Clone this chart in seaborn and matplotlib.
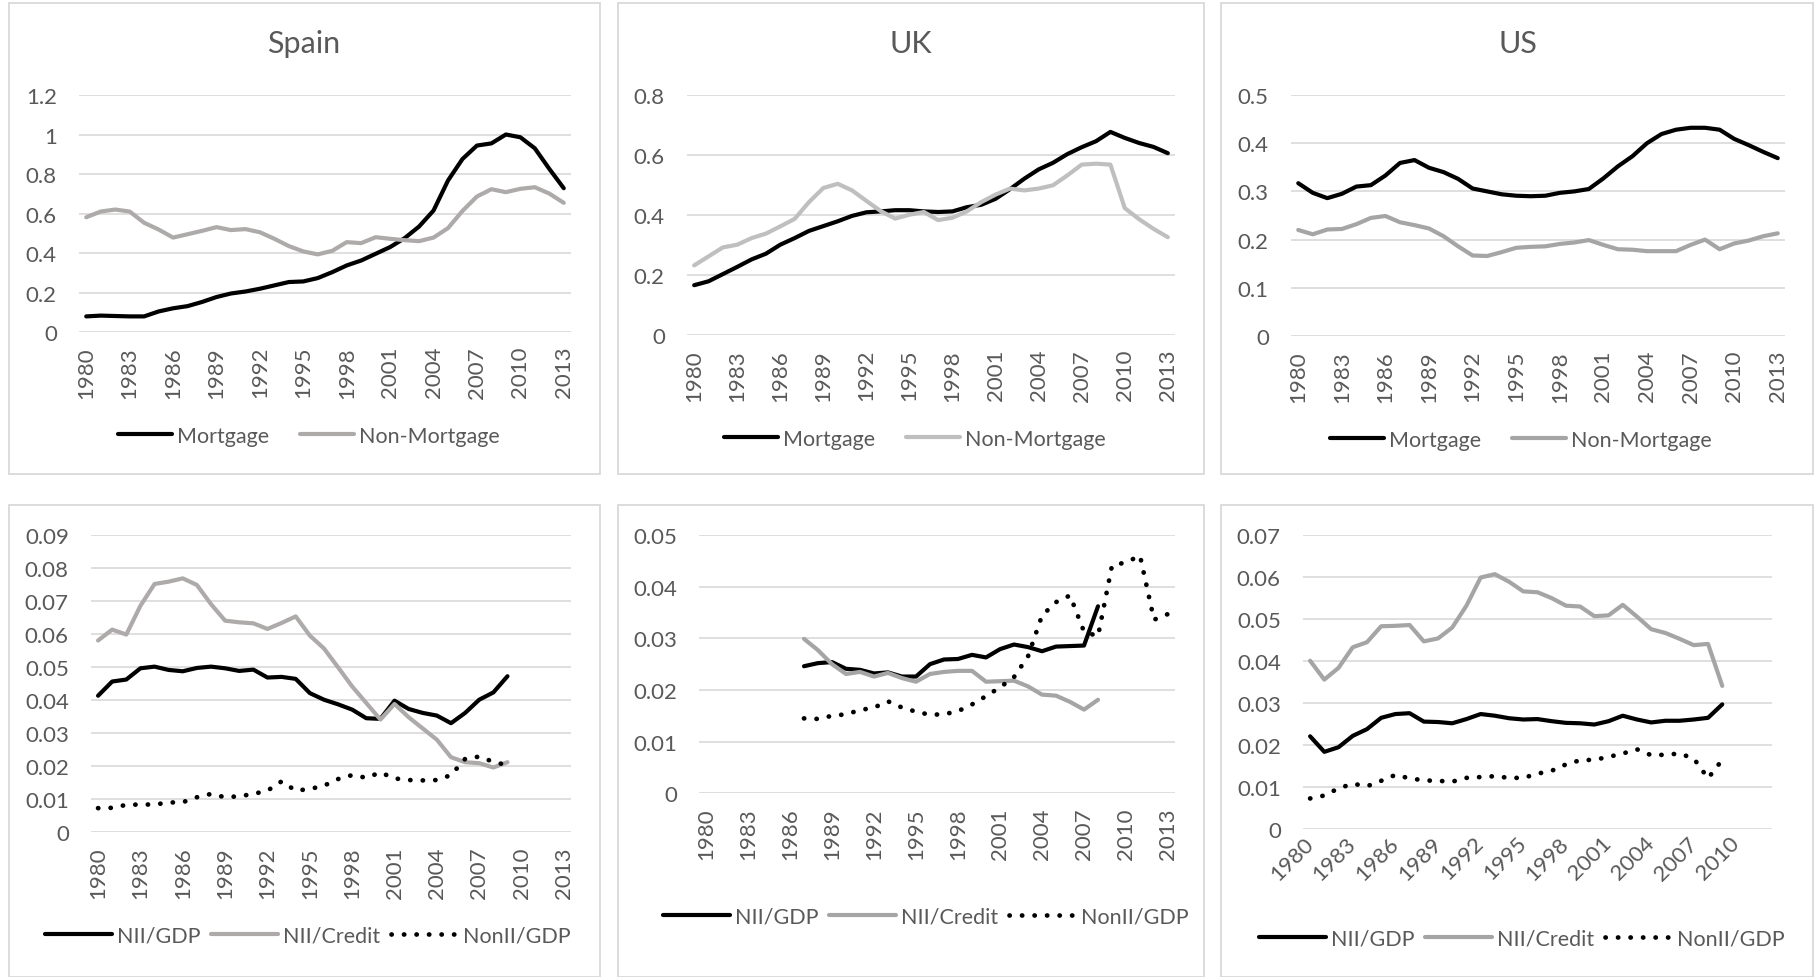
import matplotlib
matplotlib.use("Agg")
import matplotlib.pyplot as plt
from matplotlib.patches import Rectangle
import seaborn as sns
import pandas as pd

plt.rcParams['font.family'] = ['Lato', 'DejaVu Sans']

# ---------------- data ----------------
years = list(range(1980, 2014))
xtick_years = [1980, 1983, 1986, 1989, 1992, 1995, 1998, 2001, 2004, 2007, 2010, 2013]
xtick_years_us_bottom = [1980, 1983, 1986, 1989, 1992, 1995, 1998, 2001, 2004, 2007, 2010]

spain_mortgage = [0.079, 0.083, 0.081, 0.079, 0.079, 0.104, 0.120, 0.131, 0.152, 0.177,
                  0.195, 0.205, 0.219, 0.236, 0.253, 0.256, 0.273, 0.303, 0.337, 0.362,
                  0.396, 0.430, 0.475, 0.534, 0.615, 0.767, 0.876, 0.944, 0.955, 1.000,
                  0.986, 0.930, 0.826, 0.728]
spain_nonmortgage = [0.581, 0.610, 0.620, 0.610, 0.553, 0.519, 0.478, 0.495, 0.512, 0.531,
                     0.516, 0.521, 0.505, 0.472, 0.435, 0.408, 0.393, 0.411, 0.455, 0.450,
                     0.480, 0.472, 0.465, 0.460, 0.478, 0.526, 0.613, 0.686, 0.723, 0.708,
                     0.725, 0.733, 0.701, 0.654]

uk_mortgage = [0.166, 0.179, 0.203, 0.227, 0.252, 0.271, 0.301, 0.323, 0.347, 0.363,
               0.379, 0.397, 0.409, 0.412, 0.416, 0.416, 0.412, 0.410, 0.412, 0.426,
               0.434, 0.454, 0.486, 0.521, 0.552, 0.574, 0.603, 0.626, 0.646, 0.677,
               0.657, 0.640, 0.627, 0.606]
uk_nonmortgage = [0.232, 0.262, 0.292, 0.301, 0.323, 0.338, 0.362, 0.387, 0.443, 0.490,
                  0.504, 0.482, 0.447, 0.413, 0.388, 0.401, 0.410, 0.383, 0.391, 0.412,
                  0.443, 0.468, 0.488, 0.482, 0.488, 0.499, 0.532, 0.568, 0.571, 0.568,
                  0.423, 0.386, 0.354, 0.326]

us_mortgage = [0.317, 0.297, 0.286, 0.295, 0.310, 0.313, 0.333, 0.359, 0.365, 0.349,
               0.340, 0.326, 0.306, 0.300, 0.294, 0.291, 0.290, 0.291, 0.297, 0.300,
               0.305, 0.327, 0.352, 0.373, 0.400, 0.419, 0.428, 0.432, 0.432, 0.428,
               0.409, 0.396, 0.382, 0.369]
us_nonmortgage = [0.220, 0.211, 0.221, 0.222, 0.232, 0.245, 0.249, 0.236, 0.230, 0.223,
                  0.207, 0.186, 0.167, 0.166, 0.174, 0.183, 0.185, 0.186, 0.191, 0.194,
                  0.199, 0.189, 0.180, 0.179, 0.176, 0.176, 0.176, 0.189, 0.200, 0.180,
                  0.192, 0.198, 0.207, 0.213]

# bottom row
spain_b_years = list(range(1980, 2010))
spain_nii_gdp = [0.0413, 0.0456, 0.0462, 0.0496, 0.0501, 0.0491, 0.0487, 0.0497, 0.0501, 0.0496,
                 0.0488, 0.0492, 0.0468, 0.0470, 0.0464, 0.0421, 0.0401, 0.0387, 0.0371, 0.0345,
                 0.0343, 0.0398, 0.0373, 0.0361, 0.0353, 0.0330, 0.0361, 0.0401, 0.0423, 0.0472]
spain_nii_credit = [0.0580, 0.0613, 0.0598, 0.0685, 0.0751, 0.0758, 0.0768, 0.0748, 0.0690, 0.0640,
                    0.0635, 0.0632, 0.0615, 0.0633, 0.0653, 0.0595, 0.0556, 0.0499, 0.0441, 0.0391,
                    0.0341, 0.0388, 0.0348, 0.0314, 0.0280, 0.0227, 0.0212, 0.0209, 0.0196, 0.0212]
spain_nonii_gdp = [0.0073, 0.0074, 0.0083, 0.0084, 0.0084, 0.0090, 0.0091, 0.0106, 0.0116, 0.0106,
                   0.0109, 0.0116, 0.0126, 0.0154, 0.0126, 0.0131, 0.0141, 0.0161, 0.0173, 0.0165,
                   0.0181, 0.0163, 0.0158, 0.0157, 0.0158, 0.0173, 0.0222, 0.0229, 0.0213, 0.0203]

uk_b_years = list(range(1987, 2009))
uk_nii_gdp = [0.0246, 0.0252, 0.0254, 0.0241, 0.0239, 0.0232, 0.0234, 0.0226, 0.0226, 0.0250,
              0.0259, 0.0260, 0.0268, 0.0263, 0.0279, 0.0288, 0.0283, 0.0275, 0.0284, 0.0285,
              0.0286, 0.0362]
uk_nii_credit = [0.0299, 0.0277, 0.0250, 0.0231, 0.0235, 0.0226, 0.0233, 0.0223, 0.0216, 0.0231,
                 0.0235, 0.0237, 0.0237, 0.0216, 0.0217, 0.0218, 0.0207, 0.0191, 0.0189, 0.0177,
                 0.0162, 0.0181]
uk_nonii_years = list(range(1987, 2014))
uk_nonii_gdp = [0.0145, 0.0144, 0.0150, 0.0153, 0.0161, 0.0166, 0.0178, 0.0166, 0.0158, 0.0152,
                0.0153, 0.0159, 0.0172, 0.0188, 0.0205, 0.0225, 0.0265, 0.0344, 0.0370, 0.0383,
                0.0313, 0.0304, 0.0441, 0.0447, 0.0460, 0.0336, 0.0347]

us_b_years = list(range(1980, 2010))
us_nii_gdp = [0.0220, 0.0183, 0.0194, 0.0221, 0.0237, 0.0264, 0.0273, 0.0275, 0.0255, 0.0254,
              0.0251, 0.0261, 0.0273, 0.0269, 0.0263, 0.0260, 0.0261, 0.0256, 0.0252, 0.0251,
              0.0248, 0.0256, 0.0269, 0.0260, 0.0253, 0.0257, 0.0257, 0.0260, 0.0264, 0.0296]
us_nii_credit = [0.0400, 0.0355, 0.0383, 0.0432, 0.0444, 0.0482, 0.0483, 0.0485, 0.0446, 0.0453,
                 0.0479, 0.0531, 0.0598, 0.0606, 0.0588, 0.0565, 0.0563, 0.0549, 0.0531, 0.0529,
                 0.0506, 0.0508, 0.0533, 0.0505, 0.0475, 0.0466, 0.0452, 0.0437, 0.0440, 0.0340]
us_nonii_gdp = [0.0072, 0.0079, 0.0096, 0.0107, 0.0101, 0.0114, 0.0128, 0.0120, 0.0115, 0.0114,
                0.0112, 0.0121, 0.0123, 0.0125, 0.0121, 0.0121, 0.0131, 0.0138, 0.0153, 0.0163,
                0.0164, 0.0171, 0.0179, 0.0189, 0.0175, 0.0176, 0.0179, 0.0167, 0.0120, 0.0164]

titles = ["Spain", "UK", "US"]
top_labels = ["Mortgage", "Non-Mortgage"]
bottom_labels = ["NII/GDP", "NII/Credit", "NonII/GDP"]
yticks_spain_top = [0, 0.2, 0.4, 0.6, 0.8, 1.0, 1.2]
yticks_uk_top = [0, 0.2, 0.4, 0.6, 0.8]
yticks_us_top = [0, 0.1, 0.2, 0.3, 0.4, 0.5]
yticks_spain_bottom = [0, 0.01, 0.02, 0.03, 0.04, 0.05, 0.06, 0.07, 0.08, 0.09]
yticks_uk_bottom = [0, 0.01, 0.02, 0.03, 0.04, 0.05]
yticks_us_bottom = [0, 0.01, 0.02, 0.03, 0.04, 0.05, 0.06, 0.07]

# ---------------- style ----------------
W, H = 1820, 978
TXT = "#595959"
GRID = "#D9D9D9"
LW = 3.0
DOT = (0, (0.05, 2.6))

fig = plt.figure(figsize=(W / 100, H / 100), dpi=100)
fig.patch.set_facecolor("white")


def px_axes(x0, x1, y0, y1):
    return fig.add_axes([x0 / W, 1 - y1 / H, (x1 - x0) / W, (y1 - y0) / H])


def panel(x0, x1, y0, y1):
    fig.patches.append(Rectangle((x0 / W, 1 - y1 / H), (x1 - x0) / W, (y1 - y0) / H,
                                 transform=fig.transFigure, fill=False,
                                 edgecolor=GRID, linewidth=1.3, zorder=0))


def fmt(v):
    return f"{v:.2f}".rstrip("0").rstrip(".")


def style_axes(ax, yticks, xticks, xlim, rot=90):
    ax.set_xlim(*xlim)
    ax.set_ylim(yticks[0], yticks[-1])
    ax.set_yticks(yticks)
    ax.set_yticklabels([fmt(v) for v in yticks])
    ax.set_xticks(xticks)
    ax.set_xticklabels([str(y) for y in xticks])
    for s in ax.spines.values():
        s.set_visible(False)
    ax.grid(axis="y", color=GRID, linewidth=1.2)
    ax.grid(axis="x", visible=False)
    ax.set_axisbelow(True)
    ax.tick_params(axis="both", length=0, labelsize=16, labelcolor=TXT)
    ax.tick_params(axis="y", pad=16)
    if rot == 90:
        ax.tick_params(axis="x", pad=10)
        for t in ax.get_xticklabels():
            t.set_rotation(90)
            t.set_ha("center")
            t.set_va("top")
    else:
        ax.tick_params(axis="x", pad=8)
        for t in ax.get_xticklabels():
            t.set_rotation(45)
            t.set_ha("right")
            t.set_va("center")
            t.set_rotation_mode("anchor")
    ax.set_xlabel("")
    ax.set_ylabel("")
    ax.set_facecolor("none")


def add_legend(ax, cx, cy, ncol, hl, colsp):
    h, l = ax.get_legend_handles_labels()
    ax.legend(h, l, loc="center", bbox_to_anchor=(cx / W, 1 - cy / H),
              bbox_transform=fig.transFigure, ncol=ncol, frameon=False,
              fontsize=15.5, labelcolor=TXT, handlelength=hl, handletextpad=0.25,
              columnspacing=colsp, borderpad=0, borderaxespad=0)


# panel borders
cols = [(9, 600), (617.5, 1204), (1221, 1813)]
for x0, x1 in cols:
    panel(x0, x1, 3.5, 475)
    panel(x0, x1, 506, 977.5)

# titles
for t, cx in zip(titles, [304, 911, 1518]):
    fig.text(cx / W, 1 - 44 / H, t, ha="center", va="center", fontsize=22, color=TXT)

line_kw = dict(linewidth=LW, solid_capstyle="round", solid_joinstyle="round")
dot_kw = dict(linewidth=LW + 0.4, linestyle=DOT, dash_capstyle="round")

# ---- top row ----
top = [
    ((79, 571, 96, 333), spain_mortgage, spain_nonmortgage, "#AEAAAA", yticks_spain_top, 309, 437),
    ((687, 1175, 96, 336), uk_mortgage, uk_nonmortgage, "#BFBFBF", yticks_uk_top, 915, 440),
    ((1291, 1785, 96, 337), us_mortgage, us_nonmortgage, "#A5A5A5", yticks_us_top, 1521, 441),
]
for (x0, x1, y0, y1), mort, nonm, gcol, yt, lcx, lcy in top:
    ax = px_axes(x0, x1, y0, y1)
    df = pd.DataFrame({"year": years, "Mortgage": mort, "Non-Mortgage": nonm})
    sns.lineplot(data=df, x="year", y="Mortgage", ax=ax, color="black", label=top_labels[0], **line_kw)
    sns.lineplot(data=df, x="year", y="Non-Mortgage", ax=ax, color=gcol, label=top_labels[1], **line_kw)
    style_axes(ax, yt, xtick_years, (1979.5, 2013.5))
    add_legend(ax, lcx, lcy, 2, 2.5, 1.4)

# ---- bottom row ----
bottom = [
    ((91, 571, 535.7, 833.3), spain_b_years, spain_nii_gdp, spain_nii_credit, spain_b_years, spain_nonii_gdp,
     "#AEAAAA", yticks_spain_bottom, xtick_years, (1979.5, 2013.5), 90, 308, 937),
    ((699, 1175, 536, 794.3), uk_b_years, uk_nii_gdp, uk_nii_credit, uk_nonii_years, uk_nonii_gdp,
     "#A5A5A5", yticks_uk_bottom, xtick_years, (1979.5, 2013.5), 90, 926, 918),
    ((1303, 1772, 535.7, 829.7), us_b_years, us_nii_gdp, us_nii_credit, us_b_years, us_nonii_gdp,
     "#A5A5A5", yticks_us_bottom, xtick_years_us_bottom, (1979.5, 2012.5), 45, 1522, 940),
]
for (x0, x1, y0, y1), yrs, nii, niic, nyrs, nonii, gcol, yt, xt, xl, rot, lcx, lcy in bottom:
    ax = px_axes(x0, x1, y0, y1)
    d1 = pd.DataFrame({"year": yrs, "NII/GDP": nii, "NII/Credit": niic})
    d2 = pd.DataFrame({"year": nyrs, "NonII/GDP": nonii})
    sns.lineplot(data=d1, x="year", y="NII/GDP", ax=ax, color="black", label=bottom_labels[0], **line_kw)
    sns.lineplot(data=d1, x="year", y="NII/Credit", ax=ax, color=gcol, label=bottom_labels[1], **line_kw)
    sns.lineplot(data=d2, x="year", y="NonII/GDP", ax=ax, color="black", label=bottom_labels[2], **dot_kw)
    style_axes(ax, yt, xt, xl, rot=rot)
    add_legend(ax, lcx, lcy, 3, 3.1, 0.5)

fig.savefig("out.png", dpi=100, facecolor="white")
